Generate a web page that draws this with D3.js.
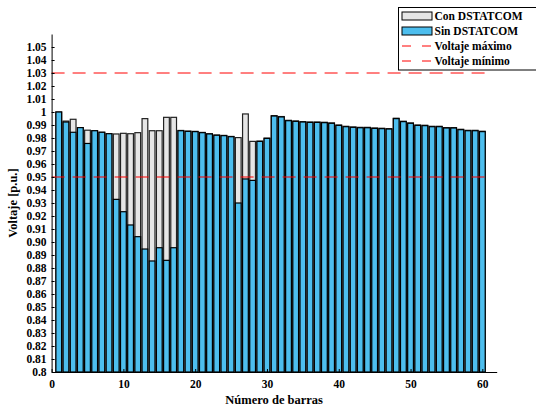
<!DOCTYPE html>
<html>
<head>
<meta charset="utf-8">
<script src="https://cdn.jsdelivr.net/npm/d3@7"></script>
<style>
	body { margin: 0; background: #fff; }
	svg { display: block; }
</style>
</head>
<body>
<svg id="chart"></svg>
<script>
// bus numbers
const buses = d3.range(1, 61);

// voltage without DSTATCOM (blue bars)
const sinDSTATCOM = [
	1.000, 0.9923, 0.9844, 0.9880, 0.9758, 0.9856, 0.9844, 0.9833, 0.9328, 0.9233,
	0.9131, 0.9041, 0.8946, 0.8854, 0.8956, 0.8859, 0.8956, 0.9856, 0.9851, 0.9849,
	0.9841, 0.9831, 0.9821, 0.9818, 0.9810, 0.9300, 0.9485, 0.9474, 0.9774, 0.9797,
	0.9969, 0.9962, 0.9933, 0.9928, 0.9923, 0.9920, 0.9920, 0.9918, 0.9913, 0.9897,
	0.9887, 0.9882, 0.9879, 0.9879, 0.9874, 0.9872, 0.9869, 0.9949, 0.9926, 0.9913,
	0.9897, 0.9895, 0.9887, 0.9887, 0.9877, 0.9877, 0.9864, 0.9856, 0.9856, 0.9849
];

// voltage with DSTATCOM (gray bars, drawn behind)
const conDSTATCOM = [
	1.000, 0.9930, 0.9944, 0.9880, 0.9860, 0.9856, 0.9844, 0.9833, 0.9831, 0.9836,
	0.9833, 0.9841, 0.9949, 0.9856, 0.9856, 0.9959, 0.9959, 0.9858, 0.9853, 0.9851,
	0.9843, 0.9833, 0.9823, 0.9820, 0.9812, 0.9803, 0.9985, 0.9774, 0.9776, 0.9799,
	0.9972, 0.9965, 0.9936, 0.9931, 0.9926, 0.9923, 0.9923, 0.9921, 0.9916, 0.9900,
	0.9890, 0.9885, 0.9882, 0.9882, 0.9877, 0.9875, 0.9872, 0.9952, 0.9929, 0.9916,
	0.9900, 0.9898, 0.9890, 0.9890, 0.9880, 0.9880, 0.9867, 0.9859, 0.9859, 0.9852
];

const vMax = 1.03;
const vMin = 0.95;

const yTickLabels = [
	"0.8", "0.81", "0.82", "0.83", "0.84", "0.85", "0.86", "0.87", "0.88", "0.89",
	"0.90", "0.91", "0.92", "0.93", "0.94", "0.95", "0.96", "0.97", "0.98", "0.99",
	"1", "1.01", "1.02", "1.03", "1.04", "1.05"
];
const yTickValues = yTickLabels.map(Number);
const xTickValues = [0, 10, 20, 30, 40, 50, 60];

const legendItems = [
	{ label: "Con DSTATCOM", type: "bar", fill: "#e6e6e6" },
	{ label: "Sin DSTATCOM", type: "bar", fill: "#4dbeee" },
	{ label: "Voltaje máximo", type: "line", stroke: "#ff0000" },
	{ label: "Voltaje mínimo", type: "line", stroke: "#ff0000" }
];

const FONT = "'Liberation Serif', 'Times New Roman', Times, serif";
const width = 536, height = 406;
const svg = d3.select("#chart").attr("width", width).attr("height", height);

const x = d3.scaleLinear([0, 62], [51.6, 496.7]);
const y = d3.scaleLinear([0.8, 1.06], [372, 34]);
const barW = 0.8 * (x(1) - x(0));

// bars: gray first, blue on top
const bars = svg.append("g");
bars.selectAll("rect.con")
	.data(buses)
	.join("rect")
	.attr("class", "con")
	.attr("x", d => x(d) - barW / 2)
	.attr("y", (d, i) => y(conDSTATCOM[i]))
	.attr("width", barW)
	.attr("height", (d, i) => y(0.8) - y(conDSTATCOM[i]))
	.attr("fill", "#e6e6e6")
	.attr("stroke", "#222")
	.attr("stroke-width", 1.2);

bars.selectAll("rect.sin")
	.data(buses)
	.join("rect")
	.attr("class", "sin")
	.attr("x", d => x(d) - barW / 2)
	.attr("y", (d, i) => y(sinDSTATCOM[i]))
	.attr("width", barW)
	.attr("height", (d, i) => y(0.8) - y(sinDSTATCOM[i]))
	.attr("fill", "#4dbeee")
	.attr("stroke", "#000")
	.attr("stroke-width", 1.2);

// limit lines
svg.append("g")
	.selectAll("line")
	.data([vMax, vMin])
	.join("line")
	.attr("x1", x(0))
	.attr("x2", x(61.2))
	.attr("y1", d => y(d))
	.attr("y2", d => y(d))
	.attr("stroke", "#ff0000")
	.attr("stroke-width", 1)
	.attr("stroke-dasharray", "13,8");

// axes
const xAxis = d3.axisBottom(x).tickValues(xTickValues).tickSizeInner(-3).tickSizeOuter(0).tickPadding(8);
const yAxis = d3.axisLeft(y).tickValues(yTickValues).tickSizeInner(-3).tickSizeOuter(0).tickPadding(5)
	.tickFormat((d, i) => yTickLabels[i]);

function styleAxis(g) {
	g.attr("font-family", FONT).attr("font-size", 11.5).attr("font-weight", "bold");
	g.selectAll("text").style("font-family", FONT).style("font-weight", "bold").attr("fill", "#000");
	g.selectAll("path, line").attr("stroke", "#000");
}

svg.append("g")
	.attr("transform", `translate(0, ${y(0.8)})`)
	.call(xAxis)
	.call(styleAxis);

svg.append("g")
	.attr("transform", `translate(${x(0)}, 0)`)
	.call(yAxis)
	.call(styleAxis);

// axis titles
svg.append("text")
	.attr("x", (x(0) + x(62)) / 2)
	.attr("y", 404)
	.attr("text-anchor", "middle")
	.style("font-family", FONT)
	.style("font-weight", "bold")
	.style("font-size", "12.5px")
	.text("Número de barras");

svg.append("text")
	.attr("transform", `translate(17, ${(y(0.8) + y(1.06)) / 2}) rotate(-90)`)
	.attr("text-anchor", "middle")
	.style("font-family", FONT)
	.style("font-weight", "bold")
	.style("font-size", "12.5px")
	.text("Voltaje [p.u.]");

// legend
const legend = svg.append("g").attr("transform", "translate(398.5, 7.5)");
legend.append("rect")
	.attr("width", 150)
	.attr("height", 62.5)
	.attr("fill", "#fff")
	.attr("stroke", "#000")
	.attr("stroke-width", 1);

const item = legend.selectAll("g.item")
	.data(legendItems)
	.join("g")
	.attr("class", "item")
	.attr("transform", (d, i) => `translate(0, ${i * 15})`);

item.filter(d => d.type === "bar")
	.append("rect")
	.attr("x", 3.5)
	.attr("y", 4.5)
	.attr("width", 30)
	.attr("height", 8)
	.attr("fill", d => d.fill)
	.attr("stroke", "#000")
	.attr("stroke-width", 1);

item.filter(d => d.type === "line")
	.append("line")
	.attr("x1", 3.5)
	.attr("x2", 33.5)
	.attr("y1", 8.5)
	.attr("y2", 8.5)
	.attr("stroke", d => d.stroke)
	.attr("stroke-width", 1)
	.attr("stroke-dasharray", "9,11");

item.append("text")
	.attr("x", 36)
	.attr("y", 12.5)
	.style("font-family", FONT)
	.style("font-weight", "bold")
	.style("font-size", "11.5px")
	.text(d => d.label);
</script>
</body>
</html>
